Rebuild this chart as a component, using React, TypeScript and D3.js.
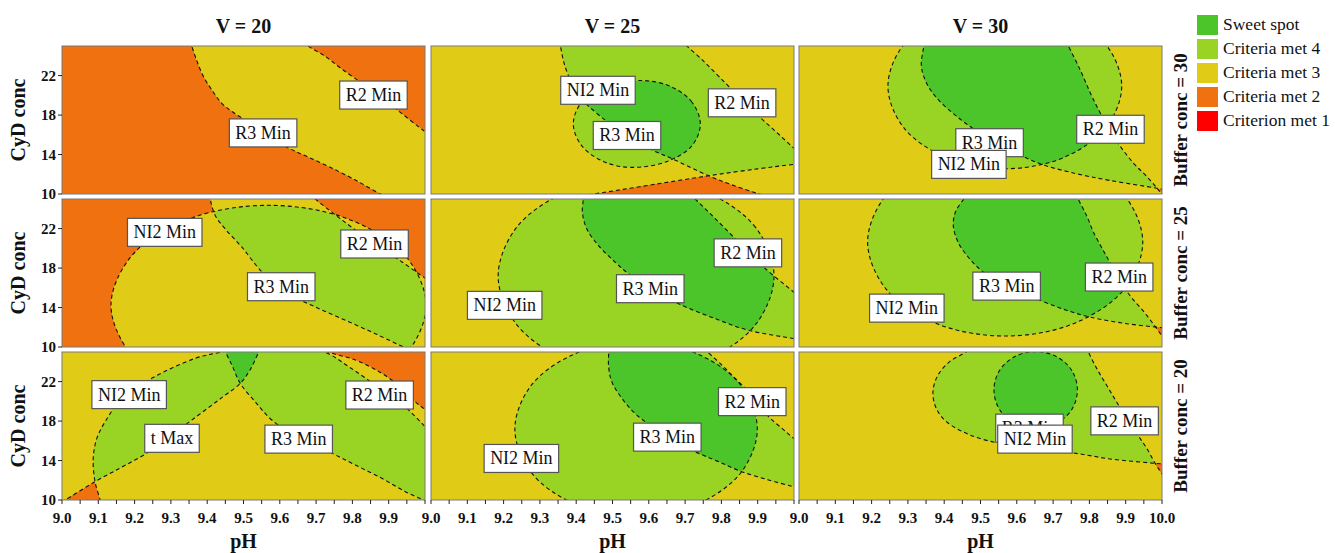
import React, { useMemo } from "react";
import * as d3 from "d3";

type Pt = [number, number]; // [pH, CyD conc]
interface Boundary { v: number; buf: number; pts: Pt[]; closed?: boolean; rest?: Pt[] }
interface PanelLabel { v: number; buf: number; text: string; at: Pt }

// ---------------- data ----------------
const vValues = [20, 25, 30];
const bufferValues = [30, 25, 20];
const pHDomain: Pt = [9, 10];
const cydDomain: Pt = [10, 25];
const pHMajorTicks = [9.0, 9.1, 9.2, 9.3, 9.4, 9.5, 9.6, 9.7, 9.8, 9.9];
const pHLastPanelExtraTick = 10.0;
const pHMinorTicks = [9.05, 9.15, 9.25, 9.35, 9.45, 9.55, 9.65, 9.75, 9.85, 9.95];
const cydTicks = [10, 14, 18, 22];
const levelNames = ["Sweet spot", "Criteria met 4", "Criteria met 3", "Criteria met 2", "Criterion met 1"];
const levelColors = ["#4cc52b", "#99d323", "#e0cb17", "#ef7110", "#ff0000"];
// criteria met everywhere in a panel (rows: buffer 30,25,20; cols: V 20,25,30)
const baseCriteriaMet = [
  [1, 1, 2],
  [1, 2, 2],
  [1, 2, 2],
];

// NI2 Min: met inside
const ni2Boundaries: Boundary[] = [
  { v: 25, buf: 30, closed: true, pts: [[9.742, 17.1], [9.719, 19.3], [9.66, 20.91], [9.58, 21.5], [9.485, 20.91], [9.415, 19.3], [9.392, 17.1], [9.415, 14.9], [9.475, 13.29], [9.55, 12.7], [9.65, 13.29], [9.719, 14.9]] },
  { v: 30, buf: 30, closed: true, pts: [[9.889, 20.93], [9.846, 25.12], [9.728, 28.18], [9.567, 29.3], [9.406, 28.18], [9.288, 25.12], [9.245, 20.93], [9.288, 16.75], [9.406, 13.68], [9.567, 12.56], [9.728, 13.68], [9.846, 16.75]] },
  { v: 20, buf: 25, closed: true, pts: [[10.003, 14.22], [9.945, 19.29], [9.786, 23.0], [9.569, 24.36], [9.352, 23.0], [9.193, 19.29], [9.135, 14.22], [9.193, 9.15], [9.352, 5.44], [9.569, 4.08], [9.786, 5.44], [9.945, 9.15]] },
  { v: 25, buf: 25, closed: true, pts: [[9.945, 17.2], [9.894, 22.13], [9.755, 25.74], [9.565, 27.06], [9.375, 25.74], [9.236, 22.13], [9.185, 17.2], [9.236, 12.27], [9.375, 8.66], [9.565, 7.34], [9.755, 8.66], [9.894, 12.27]] },
  { v: 30, buf: 25, closed: true, pts: [[9.947, 20.64], [9.896, 25.4], [9.758, 28.89], [9.568, 30.17], [9.378, 28.89], [9.24, 25.4], [9.189, 20.64], [9.24, 15.87], [9.378, 12.39], [9.568, 11.11], [9.758, 12.39], [9.896, 15.87]] },
  { v: 20, buf: 20, pts: [[9.109, 9.16], [9.105, 10.0], [9.091, 11.86], [9.086, 14.22], [9.096, 16.25], [9.119, 17.94], [9.165, 20.3], [9.247, 22.33], [9.367, 24.36], [9.44, 25.0], [9.532, 25.71], [9.624, 25.71], [9.725, 24.97], [9.79, 23.51], [9.863, 21.66], [9.937, 19.7], [9.996, 17.6], [10.038, 15.91]], rest: [[10.3, 15], [10.3, 9], [9.11, 9]] },
  { v: 25, buf: 20, closed: true, pts: [[9.899, 17.2], [9.854, 21.61], [9.732, 24.84], [9.565, 26.02], [9.398, 24.84], [9.276, 21.61], [9.231, 17.2], [9.276, 12.79], [9.398, 9.56], [9.565, 8.38], [9.732, 9.56], [9.854, 12.79]] },
  { v: 30, buf: 20, pts: [[9.48, 25.71], [9.461, 25.03], [9.415, 24.02], [9.383, 22.67], [9.369, 20.98], [9.378, 19.29], [9.406, 17.94], [9.471, 16.59], [9.553, 15.74], [9.627, 15.41], [9.719, 14.97], [9.792, 14.56], [9.857, 14.16], [9.981, 13.72], [10.04, 13.55]], rest: [[10.3, 13.5], [10.3, 27], [9.5, 27]] },
];

// R3 Min: met on the upper-right side
const r3Boundaries: Boundary[] = [
  { v: 20, buf: 30, pts: [[9.35, 25.5], [9.357, 25.0], [9.37, 23.64], [9.389, 21.95], [9.412, 20.59], [9.439, 19.24], [9.467, 18.39], [9.54, 16.7], [9.619, 14.76], [9.678, 13.75], [9.743, 12.63], [9.807, 11.44], [9.876, 10.02], [9.9, 9.6]], rest: [[10.3, 9.6], [10.3, 26], [9.35, 26]] },
  { v: 25, buf: 30, pts: [[9.35, 25.5], [9.356, 25.0], [9.365, 23.47], [9.379, 21.95], [9.406, 19.92], [9.434, 18.9], [9.484, 17.37], [9.544, 15.85], [9.608, 14.49], [9.664, 13.58], [9.765, 11.85], [9.829, 10.93], [9.903, 10.02], [9.95, 9.5]], rest: [[10.3, 9.5], [10.3, 26], [9.35, 26]] },
  { v: 30, buf: 30, pts: [[9.346, 25.5], [9.344, 25.0], [9.337, 22.97], [9.351, 21.27], [9.379, 19.75], [9.434, 17.88], [9.498, 16.19], [9.572, 14.66], [9.664, 13.07], [9.765, 12.05], [9.857, 11.37], [9.985, 10.59], [10.04, 10.25]], rest: [[10.3, 10.25], [10.3, 26], [9.346, 26]] },
  { v: 20, buf: 25, pts: [[9.405, 25.5], [9.408, 25.0], [9.422, 23.34], [9.449, 21.99], [9.495, 20.14], [9.551, 17.6], [9.615, 15.57], [9.688, 14.22], [9.771, 12.87], [9.863, 11.35], [9.941, 10.0], [9.973, 9.49]], rest: [[10.3, 9.49], [10.3, 26], [9.405, 26]] },
  { v: 25, buf: 25, pts: [[9.423, 25.54], [9.42, 25.0], [9.417, 23.68], [9.429, 21.99], [9.461, 20.3], [9.507, 18.61], [9.544, 17.43], [9.618, 15.74], [9.682, 14.39], [9.783, 12.87], [9.875, 11.69], [9.999, 10.84], [10.04, 10.5]], rest: [[10.3, 10.5], [10.3, 26], [9.423, 26]] },
  { v: 30, buf: 25, pts: [[9.466, 25.54], [9.454, 25.0], [9.431, 23.68], [9.425, 22.33], [9.438, 20.64], [9.466, 19.12], [9.507, 17.6], [9.581, 15.91], [9.664, 14.73], [9.737, 13.72], [9.801, 13.04], [9.903, 12.36], [9.999, 11.96], [10.04, 11.79]], rest: [[10.3, 11.79], [10.3, 26], [9.466, 26]] },
  { v: 20, buf: 20, pts: [[9.445, 25.37], [9.468, 23.68], [9.491, 21.82], [9.532, 19.97], [9.578, 18.11], [9.661, 16.08], [9.744, 14.73], [9.808, 13.55], [9.881, 12.2], [9.946, 10.84], [9.996, 10.0], [10.03, 9.49]], rest: [[10.3, 9.49], [10.3, 26], [9.44, 26]] },
  { v: 25, buf: 20, pts: [[9.491, 25.54], [9.489, 23.68], [9.498, 21.99], [9.526, 20.3], [9.567, 18.61], [9.645, 16.59], [9.728, 14.9], [9.792, 13.89], [9.856, 12.87], [9.93, 12.03], [9.999, 11.35], [10.04, 11.01]], rest: [[10.3, 11.01], [10.3, 26], [9.491, 26]] },
  { v: 30, buf: 20, closed: true, pts: [[9.767, 21.15], [9.752, 23.1], [9.71, 24.52], [9.652, 25.04], [9.594, 24.52], [9.552, 23.1], [9.537, 21.15], [9.552, 19.2], [9.594, 17.78], [9.652, 17.26], [9.71, 17.78], [9.752, 19.2]] },
];

// R2 Min: met on the lower-left side
const r2Boundaries: Boundary[] = [
  { v: 20, buf: 30, pts: [[9.665, 25.5], [9.678, 25.0], [9.724, 23.98], [9.77, 22.69], [9.844, 20.76], [9.922, 18.56], [9.995, 16.46], [10.04, 15.3]], rest: [[10.3, 15.3], [10.3, 9], [8.8, 9], [8.8, 26], [9.665, 26]] },
  { v: 25, buf: 30, pts: [[9.69, 25.6], [9.705, 25.0], [9.746, 23.64], [9.792, 21.95], [9.847, 19.92], [9.903, 17.88], [9.949, 16.36], [9.999, 14.66], [10.05, 13.0]], rest: [[10.3, 13.0], [10.3, 9], [8.8, 9], [8.8, 26], [9.69, 26]] },
  { v: 30, buf: 30, pts: [[9.735, 25.5], [9.742, 25.0], [9.774, 22.63], [9.811, 19.58], [9.866, 15.85], [9.921, 13.14], [9.958, 11.78], [9.99, 10.42], [10.013, 9.4]], rest: [[10.02, 8.8], [8.8, 8.8], [8.8, 26], [9.735, 26]] },
  { v: 20, buf: 25, pts: [[9.684, 25.54], [9.698, 25.0], [9.767, 23.0], [9.854, 20.64], [9.937, 18.61], [9.996, 17.09], [10.04, 16.08]], rest: [[10.3, 16.08], [10.3, 9], [8.8, 9], [8.8, 26], [9.684, 26]] },
  { v: 25, buf: 25, pts: [[9.714, 25.54], [9.728, 25.0], [9.774, 23.34], [9.829, 21.32], [9.875, 19.63], [9.921, 17.94], [9.999, 15.57], [10.04, 14.22]], rest: [[10.3, 14.22], [10.3, 9], [8.8, 9], [8.8, 26], [9.714, 26]] },
  { v: 30, buf: 25, pts: [[9.763, 25.54], [9.769, 25.0], [9.792, 23.34], [9.811, 21.66], [9.838, 19.8], [9.857, 18.55], [9.903, 15.64], [9.958, 13.21], [9.999, 11.18], [10.02, 10.17]], rest: [[10.04, 9], [8.8, 9], [8.8, 26], [9.763, 26]] },
  { v: 20, buf: 20, pts: [[9.71, 25.5], [9.734, 25.0], [9.808, 24.19], [9.881, 22.84], [9.937, 21.32], [9.973, 19.97], [9.996, 19.29], [10.04, 18.3]], rest: [[10.3, 18.3], [10.3, 9], [8.8, 9], [8.8, 26], [9.71, 26]] },
  { v: 25, buf: 20, pts: [[9.751, 25.37], [9.801, 23.68], [9.838, 22.33], [9.884, 20.64], [9.93, 18.45], [9.967, 17.26], [9.999, 16.25], [10.04, 15.07]], rest: [[10.3, 15.07], [10.3, 9], [8.8, 9], [8.8, 26], [9.751, 26]] },
  { v: 30, buf: 20, pts: [[9.792, 25.54], [9.797, 25.03], [9.82, 23.34], [9.847, 21.66], [9.88, 19.63], [9.93, 16.76], [9.958, 15.24], [9.981, 13.72], [9.999, 12.7], [10.02, 11.52]], rest: [[10.04, 9], [8.8, 9], [8.8, 26], [9.792, 26]] },
];

// t Max: met on the upper-left side
const tBoundaries: Boundary[] = [
  { v: 20, buf: 20, pts: [[8.981, 9.49], [9.008, 10.0], [9.091, 11.86], [9.165, 13.34], [9.233, 14.73], [9.302, 16.59], [9.376, 18.61], [9.44, 20.37], [9.491, 21.82], [9.518, 23.18], [9.543, 25.03], [9.555, 25.71]], rest: [[9.56, 26], [8.8, 26], [8.8, 9.49]] },
  { v: 25, buf: 30, pts: [[9.3, 9.13], [9.452, 10.02], [9.608, 10.93], [9.765, 11.85], [9.9, 12.55], [10.0, 13.0], [10.1, 13.4]], rest: [[10.3, 13.4], [10.3, 26], [8.8, 26], [8.8, 9.13]] },
];

const panelLabels: PanelLabel[] = [
  { v: 20, buf: 30, text: "R2 Min", at: [9.858, 20.03] },
  { v: 20, buf: 30, text: "R3 Min", at: [9.554, 16.19] },
  { v: 25, buf: 30, text: "NI2 Min", at: [9.46, 20.51] },
  { v: 25, buf: 30, text: "R2 Min", at: [9.857, 19.24] },
  { v: 25, buf: 30, text: "R3 Min", at: [9.54, 15.93] },
  { v: 30, buf: 30, text: "R2 Min", at: [9.858, 16.56] },
  { v: 30, buf: 30, text: "R3 Min", at: [9.525, 15.2] },
  { v: 30, buf: 30, text: "NI2 Min", at: [9.468, 13.0] },
  { v: 20, buf: 25, text: "NI2 Min", at: [9.283, 21.62] },
  { v: 20, buf: 25, text: "R2 Min", at: [9.861, 20.44] },
  { v: 20, buf: 25, text: "R3 Min", at: [9.604, 16.11] },
  { v: 25, buf: 25, text: "R2 Min", at: [9.873, 19.54] },
  { v: 25, buf: 25, text: "R3 Min", at: [9.604, 15.91] },
  { v: 25, buf: 25, text: "NI2 Min", at: [9.203, 14.22] },
  { v: 30, buf: 25, text: "R2 Min", at: [9.882, 17.09] },
  { v: 30, buf: 25, text: "R3 Min", at: [9.572, 16.17] },
  { v: 30, buf: 25, text: "NI2 Min", at: [9.297, 13.94] },
  { v: 20, buf: 20, text: "NI2 Min", at: [9.185, 20.68] },
  { v: 20, buf: 20, text: "t Max", at: [9.303, 16.25] },
  { v: 20, buf: 20, text: "R3 Min", at: [9.652, 16.17] },
  { v: 20, buf: 20, text: "R2 Min", at: [9.875, 20.64] },
  { v: 25, buf: 20, text: "R2 Min", at: [9.885, 19.97] },
  { v: 25, buf: 20, text: "R3 Min", at: [9.651, 16.37] },
  { v: 25, buf: 20, text: "NI2 Min", at: [9.249, 14.21] },
  { v: 30, buf: 20, text: "R2 Min", at: [9.897, 18.02] },
  { v: 30, buf: 20, text: "R3 Min", at: [9.635, 17.28] },
  { v: 30, buf: 20, text: "NI2 Min", at: [9.65, 16.17] },
];

// ---------------- layout ----------------
const W = 1335, H = 553;
const colX = [62, 431, 799];
const rowY = [46, 199, 352];
const PW = 363, PH = 148;
const SERIF = "'Liberation Serif', 'Times New Roman', serif";
const LABEL_FONT = 18;

const xLocal = d3.scaleLinear().domain(pHDomain).range([0, PW]);
const yLocal = d3.scaleLinear().domain(cydDomain).range([PH, 0]);

function flattenCurve(pts: Pt[], closed: boolean): Pt[] {
  const out: Pt[] = [];
  let cx = 0, cy = 0;
  const ctx: any = {
    moveTo(x: number, y: number) { out.push([x, y]); cx = x; cy = y; },
    lineTo(x: number, y: number) { out.push([x, y]); cx = x; cy = y; },
    bezierCurveTo(x1: number, y1: number, x2: number, y2: number, x: number, y: number) {
      for (let i = 1; i <= 16; i++) {
        const t = i / 16, m = 1 - t;
        out.push([
          m * m * m * cx + 3 * m * m * t * x1 + 3 * m * t * t * x2 + t * t * t * x,
          m * m * m * cy + 3 * m * m * t * y1 + 3 * m * t * t * y2 + t * t * t * y,
        ]);
      }
      cx = x; cy = y;
    },
    closePath() {},
  };
  const gen = d3.line<Pt>()
    .x((p) => xLocal(p[0]))
    .y((p) => yLocal(p[1]))
    .curve(closed ? d3.curveCatmullRomClosed.alpha(0.5) : d3.curveCatmullRom.alpha(0.5))
    .context(ctx);
  gen(pts);
  return out;
}

function addPolygon(grid: Float64Array, gw: number, gh: number, poly: Pt[]) {
  const n = poly.length;
  for (let j = 0; j < gh; j++) {
    const yc = j + 0.5;
    const xs: number[] = [];
    for (let k = 0; k < n; k++) {
      const [x1, y1] = poly[k];
      const [x2, y2] = poly[(k + 1) % n];
      if ((y1 <= yc && y2 > yc) || (y2 <= yc && y1 > yc)) {
        xs.push(x1 + ((yc - y1) / (y2 - y1)) * (x2 - x1));
      }
    }
    xs.sort((a, b) => a - b);
    for (let k = 0; k + 1 < xs.length; k += 2) {
      const i0 = Math.max(0, Math.ceil(xs[k] - 0.5));
      const i1 = Math.min(gw - 1, Math.floor(xs[k + 1] - 0.5));
      for (let i = i0; i <= i1; i++) grid[j * gw + i] += 1;
    }
  }
}

const allBoundaries = [ni2Boundaries, r3Boundaries, r2Boundaries, tBoundaries];

function dashedPath(b: Boundary): string {
  const gen = d3.line<Pt>()
    .x((p) => xLocal(p[0]))
    .y((p) => yLocal(p[1]))
    .curve(b.closed ? d3.curveCatmullRomClosed.alpha(0.5) : d3.curveCatmullRom.alpha(0.5));
  return gen(b.pts) || "";
}

function measure(text: string): number {
  try {
    const c = document.createElement("canvas").getContext("2d");
    if (c) {
      c.font = `${LABEL_FONT}px 'Liberation Serif'`;
      return c.measureText(text).width;
    }
  } catch (e) { /* ignore */ }
  return text.length * 8.5;
}

function Panel({ r, c }: { r: number; c: number }) {
  const v = vValues[c];
  const buf = bufferValues[r];
  const x0 = colX[c], y0 = rowY[r];
  const bounds = allBoundaries.map((list) => list.filter((b) => b.v === v && b.buf === buf)).flat();

  const contours = useMemo(() => {
    const gw = PW, gh = PH;
    const grid = new Float64Array(gw * gh).fill(baseCriteriaMet[r][c]);
    bounds.forEach((b) => {
      const poly = flattenCurve(b.pts, !!b.closed);
      (b.rest || []).forEach((p) => poly.push([xLocal(p[0]), yLocal(p[1])]));
      addPolygon(grid, gw, gh, poly);
    });
    return d3.contours().size([gw, gh]).thresholds([1.5, 2.5, 3.5, 4.5])(Array.from(grid));
  }, [r, c]);

  const geo = d3.geoPath();
  const clipId = `clip-${r}-${c}`;
  const labels = panelLabels.filter((l) => l.v === v && l.buf === buf);

  return (
    <g transform={`translate(${x0},${y0})`}>
      <defs>
        <clipPath id={clipId}>
          <rect x={0} y={0} width={PW} height={PH} />
        </clipPath>
      </defs>
      <rect x={0} y={0} width={PW} height={PH} fill={levelColors[4]} />
      {contours.map((ct, i) => (
        <path key={i} d={geo(ct as any) || ""} fill={levelColors[5 - Math.round(ct.value + 0.5)]} />
      ))}
      <g clipPath={`url(#${clipId})`}>
        {bounds.map((b, i) => (
          <path key={i} d={dashedPath(b)} fill="none" stroke="#111" strokeWidth={1.1} strokeDasharray="4 3" />
        ))}
      </g>
      <rect x={0} y={0} width={PW} height={PH} fill="none" stroke="#7a7a7a" strokeWidth={1} />
      {labels.map((l, i) => {
        const tw = measure(l.text) + 12;
        const cx = xLocal(l.at[0]), cy = yLocal(l.at[1]);
        return (
          <g key={i}>
            <rect x={cx - tw / 2} y={cy - 14} width={tw} height={28} fill="#fff" stroke="#555" strokeWidth={1.2} />
            <text x={cx} y={cy + 6} textAnchor="middle" fontFamily={SERIF} fontSize={LABEL_FONT} fill="#111">{l.text}</text>
          </g>
        );
      })}
    </g>
  );
}

export default function App() {
  const rows = [0, 1, 2];
  const cols = [0, 1, 2];
  return (
    <svg width={W} height={H} style={{ position: "absolute", left: 0, top: 0, background: "#fff" }} xmlns="http://www.w3.org/2000/svg">
      <rect x={0} y={0} width={W} height={H} fill="#fff" />
      {rows.map((r) => cols.map((c) => <Panel key={`${r}-${c}`} r={r} c={c} />))}

      {/* column titles */}
      {cols.map((c) => (
        <text key={c} x={colX[c] + PW / 2} y={33} textAnchor="middle" fontFamily={SERIF} fontWeight="bold" fontSize={20} fill="#111">
          {`V = ${vValues[c]}`}
        </text>
      ))}

      {/* row titles */}
      {rows.map((r) => (
        <text key={r} transform={`translate(1187,${rowY[r] + PH / 2}) rotate(-90)`} textAnchor="middle" fontFamily={SERIF} fontWeight="bold" fontSize={19} fill="#111">
          {`Buffer conc = ${bufferValues[r]}`}
        </text>
      ))}

      {/* y axes */}
      {rows.map((r) => (
        <g key={r}>
          {cydTicks.map((t) => {
            const y = rowY[r] + yLocal(t);
            return (
              <g key={t}>
                <line x1={colX[0] - 4} x2={colX[0]} y1={y} y2={y} stroke="#222" strokeWidth={1} />
                <text x={colX[0] - 6} y={y} dy="0.35em" textAnchor="end" fontFamily={SERIF} fontWeight="bold" fontSize={15} fill="#111">{t}</text>
              </g>
            );
          })}
          <text transform={`translate(25,${rowY[r] + PH / 2}) rotate(-90)`} textAnchor="middle" fontFamily={SERIF} fontWeight="bold" fontSize={20} fill="#111">
            CyD conc
          </text>
        </g>
      ))}

      {/* x axes */}
      {cols.map((c) => {
        const by = rowY[2] + PH;
        const majors = c === 2 ? [...pHMajorTicks, pHLastPanelExtraTick] : pHMajorTicks;
        return (
          <g key={c}>
            {[...pHMajorTicks, ...pHMinorTicks, pHLastPanelExtraTick].map((t, i) => (
              <line key={i} x1={colX[c] + xLocal(t)} x2={colX[c] + xLocal(t)} y1={by} y2={by + 4} stroke="#222" strokeWidth={1} />
            ))}
            {majors.map((t) => (
              <text key={t} x={colX[c] + xLocal(t)} y={523} textAnchor="middle" fontFamily={SERIF} fontWeight="bold" fontSize={15} fill="#111">
                {t.toFixed(1)}
              </text>
            ))}
            <text x={colX[c] + PW / 2} y={548} textAnchor="middle" fontFamily={SERIF} fontWeight="bold" fontSize={20} fill="#111">pH</text>
          </g>
        );
      })}

      {/* legend */}
      {levelNames.map((name, i) => (
        <g key={name}>
          <rect x={1197} y={15 + i * 24} width={21} height={20} fill={levelColors[i]} />
          <text x={1223} y={30 + i * 24} fontFamily={SERIF} fontSize={17.5} fill="#111">{name}</text>
        </g>
      ))}
    </svg>
  );
}
